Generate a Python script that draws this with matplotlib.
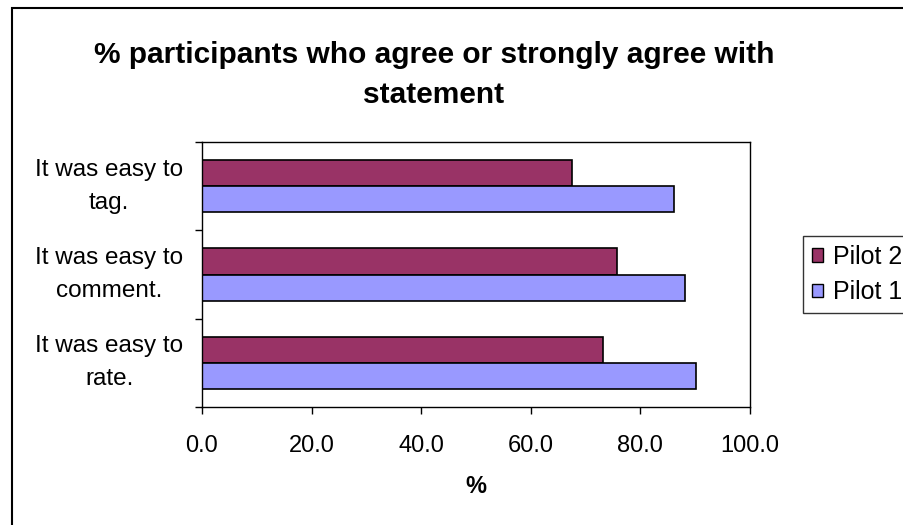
import matplotlib.pyplot as plt
import matplotlib.transforms as mtransforms
from matplotlib.patches import Rectangle, Patch
import numpy as np

plt.rcParams['font.family'] = ['Liberation Sans', 'DejaVu Sans']

# bottom to top on the chart
statements = ['It was easy to\nrate.', 'It was easy to\ncomment.', 'It was easy to\ntag.']
pilot1 = [90.2, 88.2, 86.1]
pilot2 = [73.1, 75.8, 67.5]
xticks = [0, 20, 40, 60, 80, 100]

fig = plt.figure(figsize=(9.04, 5.25), dpi=100)
ax = fig.add_axes([202 / 904, 1 - 407 / 525, 548 / 904, 265 / 525])

y = np.arange(len(statements))
h = 0.295
ax.barh(y + h / 2, pilot2, height=h, color='#993366', edgecolor='black', linewidth=1.2, label='Pilot 2')
ax.barh(y - h / 2, pilot1, height=h, color='#9999FF', edgecolor='black', linewidth=1.2, label='Pilot 1')

ax.set_xlim(0, 100)
ax.set_ylim(-0.5, len(statements) - 0.5)
ax.set_xticks(xticks)
ax.set_xticklabels(['%.1f' % v for v in xticks], fontsize=17)
ax.tick_params(axis='x', direction='out', length=5, pad=15, width=1)

# boundary ticks between categories, labels at the centres
ax.set_yticks(np.arange(len(statements) + 1) - 0.5)
ax.set_yticklabels([])
ax.tick_params(axis='y', which='major', direction='out', length=5, width=1)
ax.set_yticks(y, minor=True)
ax.set_yticklabels(statements, minor=True, fontsize=17.5, ha='right',
                   multialignment='center', linespacing=1.65)
ax.tick_params(axis='y', which='minor', length=0, pad=13.5)
lift = mtransforms.ScaledTranslation(0, 8 / 100, fig.dpi_scale_trans)
for lbl in ax.get_yticklabels(minor=True):
    lbl.set_transform(lbl.get_transform() + lift)

for s in ax.spines.values():
    s.set_color('black')
    s.set_linewidth(1)

ax.set_xlabel('%', fontsize=17, fontweight='bold', labelpad=13)

fig.text(434 / 904, 1 - 75 / 525,
         '% participants who agree or strongly agree with\nstatement',
         ha='center', va='center', fontsize=21.5, fontweight='bold', linespacing=1.52)

handles = [Patch(facecolor='#993366', edgecolor='black', label='Pilot 2'),
           Patch(facecolor='#9999FF', edgecolor='black', label='Pilot 1')]
leg = fig.legend(handles=handles, loc='lower left', bbox_to_anchor=(803 / 904, 1 - 313 / 525),
                 fontsize=18, frameon=True, fancybox=False, handlelength=0.45, handleheight=0.45,
                 handletextpad=0.4, borderpad=0.35, labelspacing=0.45, borderaxespad=0)
leg.get_frame().set_edgecolor('black')
leg.get_frame().set_linewidth(1)

# chart frame
fig.patches.append(Rectangle((12 / 904, -0.1), 1.2, 1.1 - 8 / 525, transform=fig.transFigure,
                             fill=False, edgecolor='black', linewidth=1.5))

fig.savefig('out.png', dpi=100)
